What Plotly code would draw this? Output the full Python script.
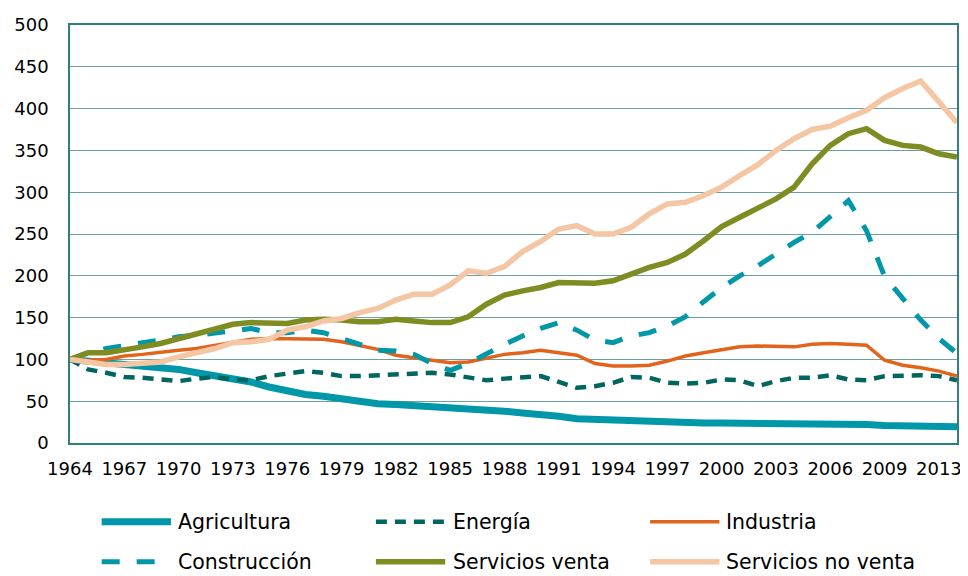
import plotly.graph_objects as go

# Category labels (one every 3 shown on the axis)
years = [str(y) for y in range(1964, 2010)] + ["2011", "2012", "2013", "2014"]
tick_labels = years[::3]

agricultura = [100, 98, 96, 95, 93, 91, 88, 84, 81, 78, 73, 67, 62, 58, 56, 53, 49, 47, 46, 45,
               44, 43, 40, 39, 38, 36, 35, 32, 29, 28, 27, 26, 25, 25, 24.5, 24, 24, 24, 24, 24,
               24, 23.5, 23.5, 23, 22, 21, 20.5, 20, 19.5, 19.5]
energia = [100, 88, 84, 79, 78, 76, 74, 77, 79, 76, 75, 80, 83, 86, 84, 80, 80, 81, 82, 84,
           84, 82, 79, 75, 77, 79, 80, 73, 66, 68, 72, 79, 78, 72, 71, 72, 76, 75, 68, 74,
           78, 78, 81, 76, 75, 80, 81, 81, 80, 75]
industria = [100, 99, 100, 104, 106, 109, 111, 113, 117, 121, 124, 125, 125, 125, 124, 121, 117, 112, 105, 102,
             100, 96, 97, 102, 106, 108, 111, 108, 105, 95, 92, 92, 93, 98, 104, 108, 112, 115, 116, 115,
             115, 118, 119, 118, 117, 99, 93, 90, 86, 80]
construccion = [100, 108, 113, 117, 120, 123, 127, 129, 131, 134, 137, 132, 132, 135, 132, 125, 118, 111, 110, 106,
                95, 87, 95, 107, 118, 128, 137, 144, 135, 123, 120, 128, 132, 140, 151, 169, 186, 200, 212, 226,
                240, 252, 271, 290, 254, 199, 173, 147, 125, 107]
servicios_venta = [100, 108, 108, 111, 115, 119, 125, 130, 137, 142, 144, 144, 143, 147, 148, 147, 145, 145, 148, 146,
                   144, 144, 151, 166, 177, 182, 186, 192, 192, 191, 194, 202, 210, 216, 226, 242, 259, 270, 281, 292,
                   306, 334, 356, 370, 376, 362, 356, 354, 346, 342]
servicios_no_venta = [100, 97, 94, 94, 95, 97, 103, 108, 113, 120, 121, 124, 135, 139, 146, 149, 156, 161, 171, 178,
                      178, 189, 206, 203, 211, 229, 241, 256, 260, 250, 250, 258, 274, 286, 288, 296, 306, 320, 333, 350,
                      364, 375, 379, 389, 398, 413, 424, 433, 409, 383]

# name, values, colour, width, dash
series = [
    ("Agricultura", agricultura, "#0097A9", 7, "solid"),
    ("Energía", energia, "#00665F", 4.5, "11px,8px"),
    ("Industria", industria, "#E2641C", 3.5, "solid"),
    ("Construcción", construccion, "#0097A9", 5, "18px,17px"),
    ("Servicios venta", servicios_venta, "#7F8C22", 5.5, "solid"),
    ("Servicios no venta", servicios_no_venta, "#F4C6A3", 5.5, "solid"),
]

fig = go.Figure()
for name, vals, color, width, dash in series:
    fig.add_trace(go.Scatter(x=years, y=vals, mode="lines", name=name, showlegend=False,
                             line=dict(color=color, width=width, dash=dash)))

# plot area in page pixels: x 66..962, y 24..443 (page body has an 8px margin)
def px_x(x):
    return (x - 66) / 896

def px_y(y):
    return (443 - y) / 419

# hand-made legend, 3 columns x 2 rows, long line samples like the original
cols = [(98, 168, 173), (375, 445, 451), (652, 722, 727)]
rows = [522, 562]
for k, (name, vals, color, width, dash) in enumerate(series):
    x0, x1, xt = cols[k % 3]
    yy = px_y(rows[k // 3])
    fig.add_shape(type="line", xref="paper", yref="paper", x0=px_x(x0), x1=px_x(x1), y0=yy, y1=yy,
                  line=dict(color=color, width=width, dash=dash))
    fig.add_annotation(xref="paper", yref="paper", x=px_x(xt), y=yy, text=name, showarrow=False,
                       xanchor="left", yanchor="middle", font=dict(size=20.5, color="#000000"))

fig.update_layout(
    width=960, height=568,
    margin=dict(l=58, r=6, t=16, b=133),
    paper_bgcolor="white", plot_bgcolor="white",
    font=dict(family="DejaVu Sans", size=18, color="#000000"),
)
fig.update_xaxes(type="category", range=[0, len(years) - 1], tickmode="array",
                 tickvals=tick_labels, ticktext=tick_labels, tickangle=0,
                 showgrid=False, showline=True, linecolor="#2F7F7D", linewidth=1.5, mirror=True,
                 ticks="", ticklabelstandoff=9)
fig.update_yaxes(range=[0, 500], dtick=50, showgrid=True, gridcolor="#6AA2A2", gridwidth=1.3,
                 zeroline=False, showline=True, linecolor="#2F7F7D", linewidth=1.5, mirror=True,
                 ticks="", ticklabelstandoff=16)

fig.write_html("out.html")
